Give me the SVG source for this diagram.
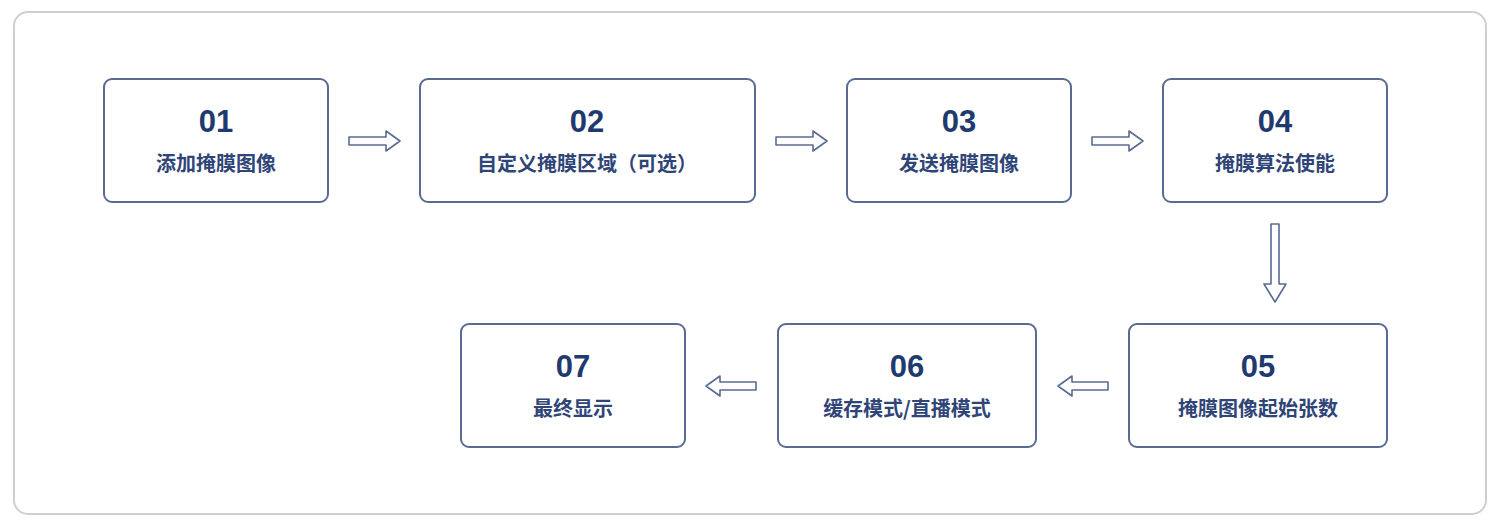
<svg xmlns="http://www.w3.org/2000/svg" width="1496" height="528" viewBox="0 0 1496 528">
<style>
.box{fill:#fff;stroke:#5a6b93;stroke-width:2}
.num{font-family:"Liberation Sans",Arial,sans-serif;font-weight:bold;font-size:31px;fill:#1f3a6e;text-anchor:middle}
.lbl{font-family:"Noto Sans CJK SC","Noto Sans",sans-serif;font-weight:bold;font-size:20px;fill:#2f4577;text-anchor:middle}
.arr{fill:#fff;stroke:#5a6b93;stroke-width:1.6;stroke-linejoin:round}
</style>
<rect x="0" y="0" width="1496" height="528" fill="#fff"/>
<rect x="14" y="12" width="1472" height="502" rx="14" fill="#fff" stroke="#cfcfd2" stroke-width="2"/>
<g id="n1"><rect class="box" x="104" y="79" width="224" height="123" rx="8"/><text class="num" x="216" y="132">01</text><text class="lbl" x="216" y="171">添加掩膜图像</text></g>
<g id="n2"><rect class="box" x="420" y="79" width="335" height="123" rx="8"/><text class="num" x="587" y="132">02</text><text class="lbl" x="587" y="171">自定义掩膜区域（可选）</text></g>
<g id="n3"><rect class="box" x="847" y="79" width="224" height="123" rx="8"/><text class="num" x="959" y="132">03</text><text class="lbl" x="959" y="171">发送掩膜图像</text></g>
<g id="n4"><rect class="box" x="1163" y="79" width="224" height="123" rx="8"/><text class="num" x="1275" y="132">04</text><text class="lbl" x="1275" y="171">掩膜算法使能</text></g>
<g id="n5"><rect class="box" x="1129" y="324" width="258" height="123" rx="8"/><text class="num" x="1258" y="377">05</text><text class="lbl" x="1258" y="416">掩膜图像起始张数</text></g>
<g id="n6"><rect class="box" x="778" y="324" width="258" height="123" rx="8"/><text class="num" x="907" y="377">06</text><text class="lbl" x="907" y="416">缓存模式/直播模式</text></g>
<g id="n7"><rect class="box" x="461" y="324" width="224" height="123" rx="8"/><text class="num" x="573" y="377">07</text><text class="lbl" x="573" y="416">最终显示</text></g>
<g id="connectors">
<polygon class="arr" points="349,137 386,137 386,131 400,141 386,151 386,145 349,145"/>
<polygon class="arr" points="776,137 813,137 813,131 827,141 813,151 813,145 776,145"/>
<polygon class="arr" points="1092,137 1129,137 1129,131 1143,141 1129,151 1129,145 1092,145"/>
<polygon class="arr" points="1271,224 1279,224 1279,284 1286,284 1275,302 1264,284 1271,284"/>
<polygon class="arr" points="1108,382 1072,382 1072,376 1058,386 1072,396 1072,390 1108,390"/>
<polygon class="arr" points="756,382 720,382 720,376 706,386 720,396 720,390 756,390"/>
</g>
</svg>
